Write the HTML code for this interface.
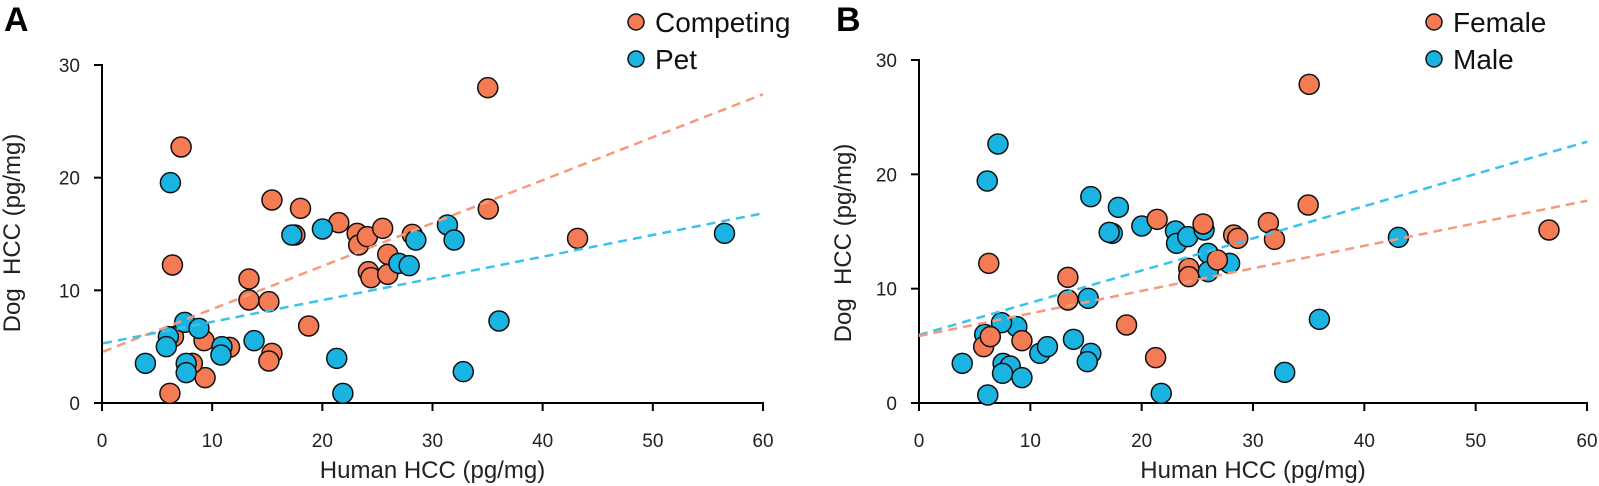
<!DOCTYPE html>
<html><head><meta charset="utf-8"><style>
html,body{margin:0;padding:0;background:#fff;}
svg{display:block;font-family:"Liberation Sans",sans-serif;}
</style></head><body>
<svg id="s" width="1599" height="486" viewBox="0 0 1599 486" xmlns="http://www.w3.org/2000/svg"></svg>
<script>
const s=document.getElementById('s');
let h='';
const OR='#f47b53',BL='#19b4e2';
function panel(ox,x0,x60,y0,y30,letter,lx,leg,ptsO,ptsB,lineA,lineB,ylx,yly,zx){
  const X=v=>x0+(x60-x0)*v/60, Y=v=>y0-(y0-y30)*v/30;
  h+=`<path d="M${x0-8},${y30}H${x0}V${y0}H${x60}V${y0+8}" fill="none" stroke="#000" stroke-width="2"/>`;
  for(let v=0;v<=30;v+=10){h+=`<line x1="${x0-8}" x2="${x0}" y1="${Y(v)}" y2="${Y(v)}" stroke="#000" stroke-width="2"/>`;
    h+=`<text x="${x0-22}" y="${Y(v)+7}" font-size="19" text-anchor="end" fill="#222">${v}</text>`;}
  for(let v=0;v<=60;v+=10){h+=`<line x1="${X(v)}" x2="${X(v)}" y1="${y0}" y2="${y0+8}" stroke="#000" stroke-width="2"/>`;
    h+=`<text x="${X(v)}" y="${y0+44}" font-size="19" text-anchor="middle" fill="#222">${v}</text>`;}
  h+=`<text x="${(x0+x60)/2}" y="478" font-size="24" text-anchor="middle" fill="#222">Human HCC (pg/mg)</text>`;
  h+=`<text transform="translate(${ylx},${yly}) rotate(-90)" font-size="24" text-anchor="middle" fill="#222">Dog&#160; HCC (pg/mg)</text>`;
  h+=`<text x="${lx}" y="31" font-size="34" font-weight="bold">${letter}</text>`;
  const L=(a,c)=>h+=`<line x1="${ox+a[0]/1.96}" y1="${a[1]/3}" x2="${ox+a[2]/1.96}" y2="${a[3]/3}" stroke="${c}" stroke-width="2.5" stroke-dasharray="9,6"/>`;
  const P=(p,c)=>p.forEach(q=>h+=`<circle cx="${ox+q[0]/1.96}" cy="${q[1]/3}" r="10" fill="${c}" stroke="#111" stroke-width="1.5"/>`);
  if(zx){P(ptsO,OR);P(ptsB,BL);}else{P(ptsB,BL);P(ptsO,OR);}
  L(lineA[0],lineA[1]);L(lineB[0],lineB[1]);
  h+=`<circle cx="${leg}" cy="22" r="8" fill="${OR}" stroke="#111" stroke-width="1.5"/><text x="${leg+19}" y="32" font-size="28" fill="#111">${zx?'Competing':'Female'}</text>`;
  h+=`<circle cx="${leg}" cy="59" r="8" fill="${BL}" stroke="#111" stroke-width="1.5"/><text x="${leg+19}" y="69" font-size="28" fill="#111">${zx?'Pet':'Male'}</text>`;
}
const aO=[[355,441],[956,263],[533,600],[589,625],[664,668],[700,700],[703,735],[720,710],[750,685],[760,763],[722,815],[727,833],[760,823],[957,627],[488,837],[488,900],[527,905],[605,978],[338,795],[1132,715],[533,1060],[527,1083],[400,1022],[402,1133],[377,1090],[450,1042],[333,1180],[340,1010],[578,705],[808,703]];
const aB=[[334,548],[632,687],[572,705],[815,720],[877,675],[890,720],[782,790],[802,797],[1420,700],[978,963],[362,967],[390,985],[330,1010],[326,1040],[435,1040],[433,1065],[498,1022],[285,1090],[365,1090],[365,1118],[660,1075],[672,1180],[908,1115]];
panel(0,102,763,403,65,'A',4,636,aO,aB,[[202,1055,1495,283],'#f59a7c'],[[202,1030,1495,640],'#3cc3ec'],20,233,true);
const bO=[[998,253],[996,615],[700,658],[918,668],[930,718],[850,705],[858,715],[790,672],[370,790],[525,832],[525,900],[640,975],[697,1073],[1468,690],[762,805],[762,830],[818,780],[360,1040],[373,1010],[435,1022]];
const bB=[[388,432],[367,543],[570,590],[624,622],[670,678],[612,700],[606,697],[736,693],[738,730],[760,710],[792,690],[800,760],[800,815],[842,790],[1173,712],[1018,958],[565,895],[536,1018],[570,1060],[563,1085],[470,1060],[485,1040],[425,980],[395,968],[362,1003],[318,1090],[398,1090],[412,1098],[397,1120],[435,1133],[368,1185],[708,1180],[950,1117]];
panel(800,919,1587,403,60,'B',836,1434,bO,bB,[[233,1005,1543,425],'#3cc3ec'],[[233,1008,1543,602],'#f59a7c'],851,243,false);
s.innerHTML=h;
</script>
</body></html>
